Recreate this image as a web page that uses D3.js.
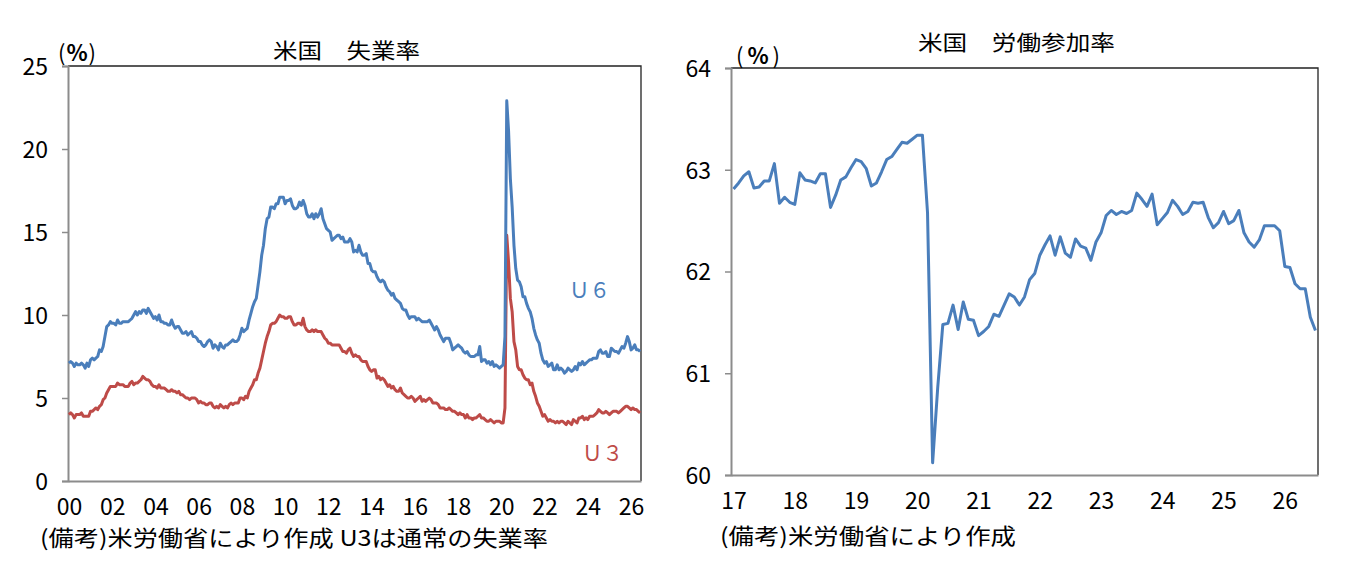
<!DOCTYPE html>
<html><head><meta charset="utf-8">
<script src="https://cdn.jsdelivr.net/npm/d3@7"></script>
<style>
html,body{margin:0;padding:0;background:#fff;}
svg{display:block;font-family:"Noto Sans CJK JP","Noto Sans",sans-serif;}
</style></head>
<body>
<svg id="c" width="1345" height="576"></svg>
<script>
// ---- Data (monthly) ----
// U3: Jan 2000 – Jun 2026
const u3 = [
4.0,4.1,4.0,3.8,4.0,4.0,4.0,4.1,3.9,3.9,3.9,3.9,
4.2,4.2,4.3,4.4,4.3,4.5,4.6,4.9,5.0,5.3,5.5,5.7,
5.7,5.7,5.7,5.9,5.8,5.8,5.8,5.7,5.7,5.7,5.9,6.0,
5.8,5.9,5.9,6.0,6.1,6.3,6.2,6.1,6.1,6.0,5.8,5.7,
5.7,5.6,5.8,5.6,5.6,5.6,5.5,5.4,5.4,5.5,5.4,5.4,
5.3,5.4,5.2,5.2,5.1,5.0,5.0,4.9,5.0,5.0,5.0,4.9,
4.7,4.8,4.7,4.7,4.6,4.6,4.7,4.7,4.5,4.4,4.5,4.4,
4.6,4.5,4.4,4.5,4.4,4.6,4.7,4.6,4.7,4.7,4.7,5.0,
5.0,4.9,5.1,5.0,5.4,5.6,5.8,6.1,6.1,6.5,6.8,7.3,
7.8,8.3,8.7,9.0,9.4,9.5,9.5,9.6,9.8,10.0,9.9,9.9,
9.8,9.8,9.9,9.9,9.6,9.4,9.4,9.5,9.5,9.4,9.8,9.3,
9.1,9.0,9.0,9.1,9.0,9.1,9.0,9.0,9.0,8.8,8.6,8.5,
8.3,8.3,8.2,8.2,8.2,8.2,8.2,8.0,7.8,7.8,7.7,7.9,
8.0,7.7,7.5,7.6,7.5,7.5,7.3,7.2,7.2,7.2,6.9,6.7,
6.6,6.7,6.7,6.2,6.3,6.1,6.2,6.1,5.9,5.7,5.8,5.6,
5.7,5.5,5.4,5.4,5.6,5.3,5.2,5.1,5.0,5.0,5.1,5.0,
4.8,4.9,5.0,5.1,4.8,4.9,4.8,4.9,5.0,4.9,4.7,4.7,
4.7,4.6,4.4,4.4,4.4,4.3,4.3,4.4,4.3,4.2,4.2,4.1,
4.0,4.1,4.0,4.0,3.8,4.0,3.8,3.8,3.7,3.8,3.8,3.9,
4.0,3.8,3.8,3.7,3.6,3.6,3.7,3.6,3.5,3.6,3.6,3.6,
3.5,3.5,4.4,14.8,13.2,11.0,10.2,8.4,7.9,6.9,6.7,6.7,
6.4,6.2,6.1,6.1,5.8,5.9,5.4,5.1,4.7,4.5,4.2,3.9,
4.0,3.8,3.6,3.7,3.6,3.6,3.5,3.6,3.5,3.6,3.6,3.5,
3.4,3.6,3.5,3.4,3.7,3.6,3.5,3.8,3.8,3.9,3.7,3.8,
3.7,3.9,3.9,3.9,4.0,4.1,4.3,4.2,4.1,4.1,4.2,4.1,
4.0,4.1,4.2,4.2,4.2,4.1,4.2,4.3,4.4,4.5,4.5,4.4,
4.3,4.4,4.3,4.3,4.2,4.1
];
// U6: Jan 2000 – Jun 2026
const u6 = [
7.1,7.2,7.1,6.9,7.1,7.0,7.0,7.1,7.0,6.8,7.1,6.9,
7.3,7.4,7.3,7.4,7.5,7.9,7.8,8.1,8.7,9.3,9.4,9.6,
9.5,9.5,9.4,9.7,9.5,9.5,9.6,9.6,9.6,9.6,9.7,9.8,
10.0,10.2,10.0,10.2,10.1,10.3,10.3,10.1,10.4,10.2,10.0,9.8,
9.9,9.7,10.0,9.6,9.6,9.5,9.5,9.4,9.4,9.7,9.4,9.2,
9.3,9.3,9.1,8.9,8.9,9.0,8.8,8.9,9.0,8.7,8.7,8.6,
8.4,8.4,8.2,8.1,8.2,8.4,8.5,8.4,8.0,8.2,8.1,7.9,
8.3,8.1,8.0,8.2,8.2,8.3,8.4,8.5,8.4,8.4,8.5,8.8,
9.2,9.0,9.1,9.2,9.7,10.1,10.5,10.8,11.0,11.8,12.6,13.6,
14.2,15.2,15.8,15.9,16.5,16.5,16.4,16.7,16.7,17.1,17.1,17.1,
16.7,16.9,16.9,17.0,16.6,16.4,16.4,16.5,16.8,16.6,16.9,16.6,
16.1,15.9,15.9,16.1,15.8,16.1,15.9,16.1,16.4,15.8,15.5,15.2,
15.1,15.0,14.5,14.6,14.7,14.8,14.8,14.6,14.7,14.4,14.4,14.4,
14.6,14.4,13.8,13.9,13.8,14.2,13.8,13.6,13.6,13.7,13.1,13.1,
12.7,12.6,12.6,12.3,12.1,12.0,12.1,12.0,11.7,11.5,11.4,11.2,
11.3,11.0,10.9,10.8,10.7,10.4,10.3,10.3,10.0,9.8,9.9,9.9,
9.9,9.7,9.8,9.7,9.6,9.6,9.6,9.6,9.7,9.5,9.3,9.1,
9.3,9.1,8.8,8.6,8.4,8.6,8.6,8.6,8.3,7.9,8.0,8.1,
8.2,8.1,8.0,7.8,7.7,7.8,7.6,7.5,7.5,7.5,7.6,7.6,
8.1,7.2,7.3,7.3,7.1,7.2,7.0,7.2,6.9,7.0,6.9,6.8,
6.9,7.0,8.7,22.9,21.1,18.2,16.5,14.2,12.8,12.1,12.0,11.7,
11.1,11.1,10.7,10.4,10.2,9.8,9.2,8.8,8.5,8.3,7.7,7.3,
7.1,7.2,6.9,7.0,7.1,6.7,6.7,7.0,6.7,6.8,6.7,6.5,
6.6,6.8,6.7,6.6,6.7,6.9,6.7,7.1,7.0,7.2,7.0,7.1,
7.2,7.3,7.3,7.4,7.4,7.4,7.8,7.9,7.7,7.7,7.8,7.5,
7.5,8.0,7.9,7.8,7.8,7.7,7.9,8.1,8.0,8.3,8.7,8.4,
7.9,8.0,8.2,7.9,7.9,7.8
];
// Labour force participation rate: Jan 2017 – Jul 2026
const lfpr = [
62.81,62.87,62.94,62.98,62.82,62.83,62.89,62.89,63.06,62.67,62.73,62.68,
62.66,62.97,62.90,62.89,62.87,62.96,62.96,62.63,62.75,62.90,62.93,63.02,
63.10,63.08,63.01,62.84,62.87,62.98,63.10,63.13,63.20,63.27,63.26,63.30,
63.34,63.34,62.58,60.12,60.86,61.48,61.49,61.67,61.43,61.70,61.53,61.52,
61.37,61.41,61.46,61.58,61.56,61.67,61.78,61.75,61.67,61.75,61.92,61.98,
62.16,62.26,62.35,62.16,62.34,62.18,62.14,62.32,62.25,62.23,62.11,62.29,
62.38,62.55,62.60,62.56,62.59,62.57,62.60,62.77,62.71,62.64,62.76,62.46,
62.52,62.58,62.70,62.64,62.56,62.59,62.68,62.67,62.68,62.53,62.43,62.48,
62.59,62.47,62.50,62.60,62.38,62.29,62.24,62.31,62.45,62.45,62.45,62.40,
62.05,62.04,61.88,61.83,61.83,61.55,61.42
];
const leftStartYear = 2000;
const rightStartYear = 2017;
const leftYearTicks = [2000,2002,2004,2006,2008,2010,2012,2014,2016,2018,2020,2022,2024,2026];
const rightYearTicks = [2017,2018,2019,2020,2021,2022,2023,2024,2025,2026];
const leftYTicks = [0,5,10,15,20,25];
const rightYTicks = [60,61,62,63,64];
const leftTitle = "米国　失業率";
const rightTitle = "米国　労働参加率";
const leftNote = "(備考)米労働省により作成 U3は通常の失業率";
const rightNote = "(備考)米労働省により作成";
const unitParts = ["(", "%", ")"];
const u6Label = "Ｕ６";
const u3Label = "Ｕ３";

const BLUE = "#4A7EBB", RED = "#BE4B48";
const svg = d3.select("#c");
const tickFont = 23;

function panel(opt){
  const g = svg.append("g");
  const x = d3.scaleLinear().domain([0, opt.n]).range([opt.x0, opt.x1]);
  const y = d3.scaleLinear().domain(opt.ydom).range([opt.y1, opt.y0]);
  g.append("path").attr("d", `M${opt.x0},${opt.y0}H${opt.x1}V${opt.y1}`)
    .attr("fill","none").attr("stroke","#222").attr("stroke-width",1.3);
  const ya = g.append("g").attr("transform",`translate(${opt.x0},0)`)
    .call(d3.axisLeft(y).tickValues(opt.yticks).tickSize(6).tickPadding(14).tickFormat(d3.format("d")));
  ya.select(".domain").attr("stroke","#8c8c8c").attr("stroke-width",2);
  ya.selectAll(".tick line").attr("stroke","#8c8c8c").attr("stroke-width",1.5);
  ya.selectAll("text").attr("font-size",tickFont).attr("fill","#000")
    .attr("font-family","'Noto Sans CJK JP',sans-serif").attr("dy","0.36em");
  const xa = g.append("g").attr("transform",`translate(0,${opt.y1})`)
    .call(d3.axisBottom(x).tickValues(opt.xticks.map(yr => (yr - opt.start)*12 + 0.5))
      .tickSize(0).tickPadding(opt.xpad).tickFormat(v => String(Math.round(opt.start + (v-0.5)/12) % 100).padStart(2,"0")));
  xa.select(".domain").attr("stroke","#8c8c8c").attr("stroke-width",2);
  xa.selectAll("text").attr("font-size",tickFont).attr("fill","#000")
    .attr("font-family","'Noto Sans CJK JP',sans-serif");
  return {g,x,y};
}

// Left panel
const L = panel({x0:68,x1:641,y0:66,y1:481,n:u3.length,ydom:[0,25],yticks:leftYTicks,
  xticks:leftYearTicks,start:leftStartYear,xpad:18});
const lineL = d3.line().x((d,i)=>L.x(i+0.5)).y(d=>L.y(d));
L.g.append("path").datum(u3).attr("d",lineL).attr("fill","none").attr("stroke",RED)
  .attr("stroke-width",3).attr("stroke-linejoin","round");
L.g.append("path").datum(u6).attr("d",lineL).attr("fill","none").attr("stroke",BLUE)
  .attr("stroke-width",3).attr("stroke-linejoin","round");

// Right panel
const R = panel({x0:731,x1:1318,y0:68,y1:475,n:lfpr.length,ydom:[60,64],yticks:rightYTicks,
  xticks:rightYearTicks,start:rightStartYear,xpad:18});
const lineR = d3.line().x((d,i)=>R.x(i+0.5)).y(d=>R.y(d));
R.g.append("path").datum(lfpr).attr("d",lineR).attr("fill","none").attr("stroke",BLUE)
  .attr("stroke-width",3).attr("stroke-linejoin","round");

// Text
function txt(s,x,y,size,opts={}){
  const t = svg.append("text").attr("x",x).attr("y",y).attr("font-size",size)
    .attr("fill",opts.fill||"#000").attr("text-anchor",opts.anchor||"start").text(s);
  if(opts.len){ t.attr("textLength",opts.len).attr("lengthAdjust",opts.adj||"spacingAndGlyphs"); }
  return t;
}
function unit(x,y,w){
  const t = svg.append("text").attr("x",x).attr("y",y).attr("font-size",22).attr("fill","#000")
    .attr("textLength",w).attr("lengthAdjust","spacing");
  t.selectAll("tspan").data(unitParts).join("tspan")
    .attr("font-weight",(d,i)=>i===1?700:400).text(d=>d);
}
txt(leftTitle,273,58,21,{len:147});
txt(rightTitle,918,50,21,{len:197});
unit(58,61,38);
unit(736,64,44);
txt(leftNote,40,546,22,{len:508});
txt(rightNote,720,544,22,{len:296});
txt(u6Label,569,298,22,{fill:BLUE,len:41});
txt(u3Label,582,461,22,{fill:RED,len:41});
</script>
</body></html>
